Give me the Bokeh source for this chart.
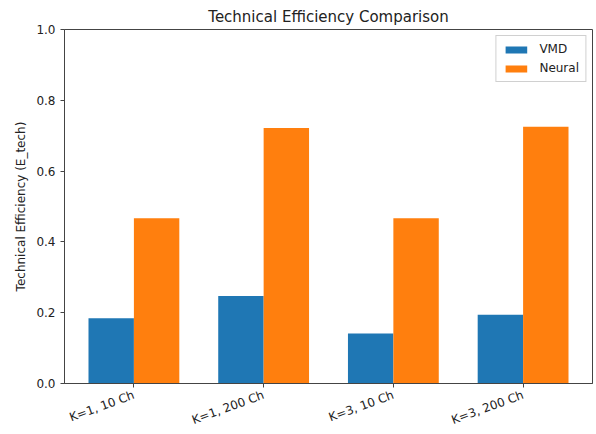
import math
from bokeh.plotting import figure
from bokeh.models import FixedTicker, Range1d, Legend, LegendItem, CustomJSTickFormatter
from bokeh.embed import file_html
from bokeh.resources import INLINE

categories = ["K=1, 10 Ch", "K=1, 200 Ch", "K=3, 10 Ch", "K=3, 200 Ch"]
vmd = [0.184, 0.247, 0.141, 0.194]
neural = [0.467, 0.722, 0.467, 0.725]
series_names = ["VMD", "Neural"]
colors = ["#1f77b4", "#ff7f0e"]
y_ticks = [0.0, 0.2, 0.4, 0.6, 0.8, 1.0]

bar_w = 0.35
xs = list(range(len(categories)))

p = figure(width=594, height=436, output_backend="svg", toolbar_location=None,
           x_range=Range1d(-0.535, 3.535), y_range=Range1d(0, 1.0),
           title="Technical Efficiency Comparison")
p.min_border_left = 64
p.min_border_right = 2
p.min_border_top = 29
p.min_border_bottom = 47

r1 = p.vbar(x=[x - bar_w / 2 for x in xs], top=vmd, width=bar_w, color=colors[0], line_color=None)
r2 = p.vbar(x=[x + bar_w / 2 for x in xs], top=neural, width=bar_w, color=colors[1], line_color=None)

p.title.align = "center"
p.title.text_font = "DejaVu Sans"
p.title.text_font_size = "15px"
p.title.text_font_style = "normal"
p.title.text_color = "#222222"
p.title.standoff = 7

p.xgrid.visible = False
p.ygrid.visible = False
p.outline_line_color = "#444444"
p.outline_line_width = 1
p.outline_line_alpha = 1

p.xaxis.ticker = FixedTicker(ticks=xs)
p.xaxis.major_label_overrides = {i: c for i, c in enumerate(categories)}
p.xaxis.major_label_orientation = math.radians(20)
p.yaxis.ticker = FixedTicker(ticks=y_ticks)
p.yaxis.formatter = CustomJSTickFormatter(code="return tick.toFixed(1);")
p.yaxis.axis_label = "Technical Efficiency (E_tech)"

for ax in (p.xaxis, p.yaxis):
    ax.major_label_text_font = "DejaVu Sans"
    ax.major_label_text_font_size = "12px"
    ax.major_label_text_color = "#222222"
    ax.axis_label_text_font = "DejaVu Sans"
    ax.axis_label_text_font_size = "12px"
    ax.axis_label_text_font_style = "normal"
    ax.axis_label_text_color = "#222222"
    ax.axis_line_color = "#444444"
    ax.major_tick_line_color = "#444444"
    ax.major_tick_out = 4
    ax.major_tick_in = 0
    ax.minor_tick_line_color = None
p.xaxis.major_label_standoff = 7

legend = Legend(items=[LegendItem(label=series_names[0], renderers=[r1]),
                       LegendItem(label=series_names[1], renderers=[r2])],
                location="top_right")
legend.label_text_font = "DejaVu Sans"
legend.label_text_font_size = "12px"
legend.label_text_color = "#222222"
legend.border_line_color = "#d0d0d0"
legend.border_line_alpha = 1
legend.glyph_width = 27
legend.glyph_height = 9
legend.spacing = 5
legend.padding = 6
legend.margin = 6
legend.label_standoff = 10
p.add_layout(legend)

open("out.html", "w").write(file_html(p, INLINE))
